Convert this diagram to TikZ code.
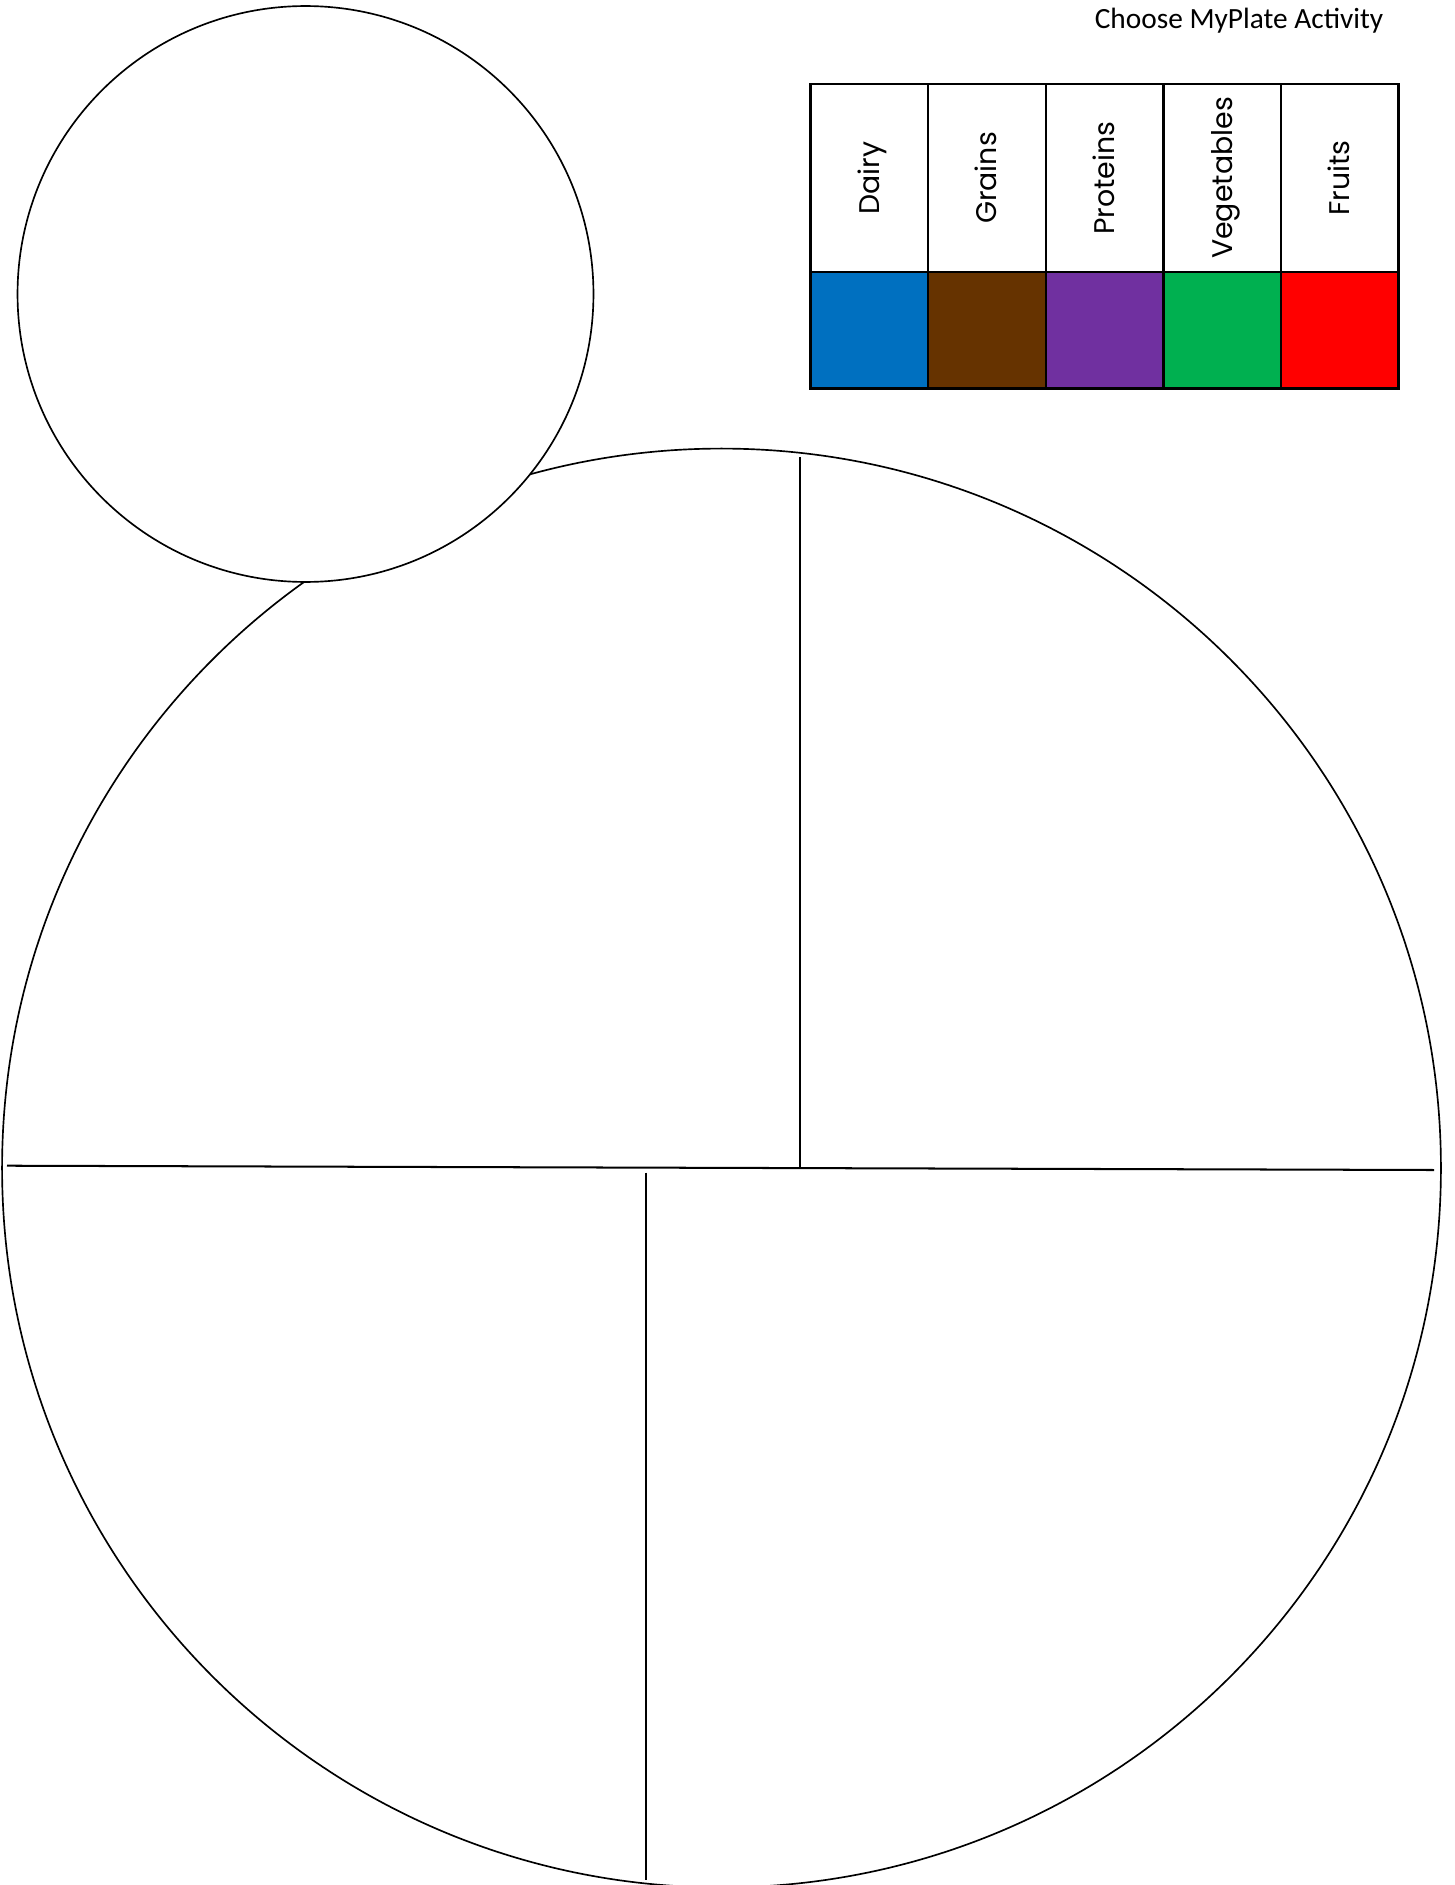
\documentclass[tikz,border=0pt]{standalone}
\usepackage{fontspec}
\setmainfont{Carlito}
\newfontfamily\gothic{Poppins}
\definecolor{dairyc}{HTML}{0070C0}
\definecolor{grainc}{HTML}{663300}
\definecolor{protc}{HTML}{7030A0}
\definecolor{vegc}{HTML}{00B050}
\definecolor{fruitc}{HTML}{FF0000}
\begin{document}
\begin{tikzpicture}[x=0.4209bp,y=-0.4209bp,
  ring/.style={circle,draw=black,line width=0.7bp,inner sep=0pt,outer sep=0pt},
  divider/.style={line width=0.85bp},
  headcell/.style={rectangle,draw=black,line width=1bp,minimum width=49.5bp,minimum height=78.96bp,inner sep=0pt,outer sep=0pt,fill=white},
  colorcell/.style={rectangle,draw=black,line width=1bp,minimum width=49.5bp,minimum height=49.08bp,inner sep=0pt,outer sep=0pt},
  catlabel/.style={rotate=90,anchor=base,font=\gothic\fontsize{12}{14}\selectfont,inner sep=0pt},
  titlestyle/.style={anchor=base,font=\fontsize{12.4}{14}\selectfont,inner sep=0pt}]
\useasboundingbox (0,0) rectangle (1454,1885);
\node[ring,minimum size=605.6bp] (plate) at (721.5,1168) {};
\node[ring,fill=white,minimum size=242.4bp] (cup) at (305.5,294) {};
\coordinate (hl) at (7,1165.7);
\coordinate (hr) at (1434,1170);
\coordinate (ut) at (800,457);
\coordinate (ub) at (800,1166.5);
\coordinate (lt) at (646,1172.5);
\coordinate (lb) at (646,1880);
\draw[divider] (hl) -- (hr);
\draw[divider] (ut) -- (ub);
\draw[divider] (lt) -- (lb);
\node[titlestyle] (title) at (1239,29) {Choose MyPlate Activity};
\foreach \nm/\lab/\col [count=\i from 0] in {dairy/Dairy/dairyc,grain/Grains/grainc,prot/Proteins/protc,veg/Vegetables/vegc,fruit/Fruits/fruitc}{
  \node[headcell] (h\nm) at ({869.3+117.6*\i},178) {};
  \node[colorcell,fill=\col] (c\nm) at ({869.3+117.6*\i},330.1) {};
  \node[catlabel] (l\nm) at ({879.3+117.6*\i},178) {\lab};
}
\end{tikzpicture}
\end{document}
